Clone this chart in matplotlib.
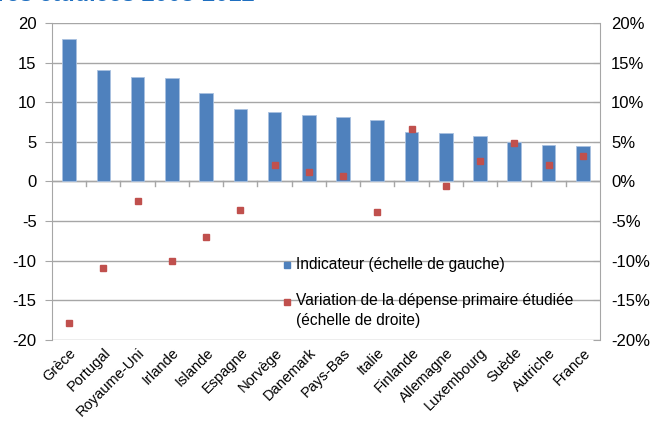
import matplotlib
matplotlib.use("Agg")
import matplotlib.pyplot as plt
import numpy as np

plt.rcParams['font.family'] = ['Liberation Sans', 'DejaVu Sans']

# DATA
pays = ['Grèce', 'Portugal', 'Royaume-Uni', 'Irlande', 'Islande', 'Espagne', 'Norvège',
        'Danemark', 'Pays-Bas', 'Italie', 'Finlande', 'Allemagne', 'Luxembourg', 'Suède',
        'Autriche', 'France']
indicateur = [18.0, 14.1, 13.2, 13.1, 11.1, 9.1, 8.8, 8.4, 8.1, 7.8, 6.2, 6.1, 5.7, 5.0, 4.6, 4.5]
variation = [-17.9, -10.9, -2.4, -10.0, -7.0, -3.6, 2.1, 1.2, 0.7, -3.8, 6.6, -0.6, 2.6, 4.8, 2.1, 3.2]
left_ticks = [-20, -15, -10, -5, 0, 5, 10, 15, 20]
right_ticks = [-20, -15, -10, -5, 0, 5, 10, 15, 20]
leg_labels = ['Indicateur (échelle de gauche)',
              'Variation de la dépense primaire étudiée\n(échelle de droite)']

bleu = '#4f81bd'
rouge = '#c0504d'
grid_col = '#a6a6a6'
fig = plt.figure(figsize=(6.5, 4.24), dpi=100)
ax = fig.add_axes([0.08, 0.198, 0.843, 0.748])
x = np.arange(len(pays))

ax.bar(x, indicateur, width=0.4, color=bleu, edgecolor='#a9c1e0', linewidth=0.6, zorder=3)
ax.set_ylim(-20, 20)
ax.set_xlim(-0.5, len(pays) - 0.5)
ax.set_yticks(left_ticks)
ax.set_yticklabels([str(t) for t in left_ticks], fontsize=12)
ax.yaxis.grid(True, color=grid_col, linewidth=1)
ax.set_axisbelow(True)
ax.tick_params(axis='y', length=5, color=grid_col, pad=6)
ax.axhline(0, color=grid_col, linewidth=1, zorder=2)

# tick marks between categories on the zero line
for xi in x[:-1] + 0.5:
    ax.plot([xi, xi], [0, -0.6], color=grid_col, linewidth=1, zorder=2)
ax.set_xticks(x)
ax.set_xticklabels(pays, rotation=45, ha='right', rotation_mode='anchor', fontsize=10.5)
ax.tick_params(axis='x', length=0, pad=4)

for s in ['top', 'right', 'bottom']:
    ax.spines[s].set_visible(False)
ax.spines['left'].set_color(grid_col)

ax2 = ax.twinx()
ax2.plot(x, variation, linestyle='none', marker='s', markersize=5, color=rouge, zorder=4)
ax2.set_ylim(-20, 20)
ax2.set_yticks(right_ticks)
ax2.set_yticklabels([f'{t}%' for t in right_ticks], fontsize=12)
ax2.tick_params(axis='y', length=5, direction='in', color=grid_col, pad=8)
for s in ['top', 'left', 'bottom']:
    ax2.spines[s].set_visible(False)
ax2.spines['right'].set_color(grid_col)

# legend, drawn by hand so the red square sits on the first line
ax2.plot([0.428], [0.237], marker='s', markersize=5, color=bleu, transform=ax2.transAxes, clip_on=False)
ax2.text(0.445, 0.237, leg_labels[0], fontsize=11.2, va='center', transform=ax2.transAxes)
ax2.plot([0.428], [0.12], marker='s', markersize=5, color=rouge, transform=ax2.transAxes, clip_on=False)
ax2.text(0.445, 0.147, leg_labels[1], fontsize=11.2, va='top', linespacing=1.4,
         transform=ax2.transAxes)

# title cut off at top of the image
fig.text(255 / 650, 1.013, 'Dépenses primaires étudiées 2008-2012', color='#1f6fc0',
         fontsize=17, fontweight='bold', ha='right', va='center')

fig.savefig('out.png', dpi=100)
